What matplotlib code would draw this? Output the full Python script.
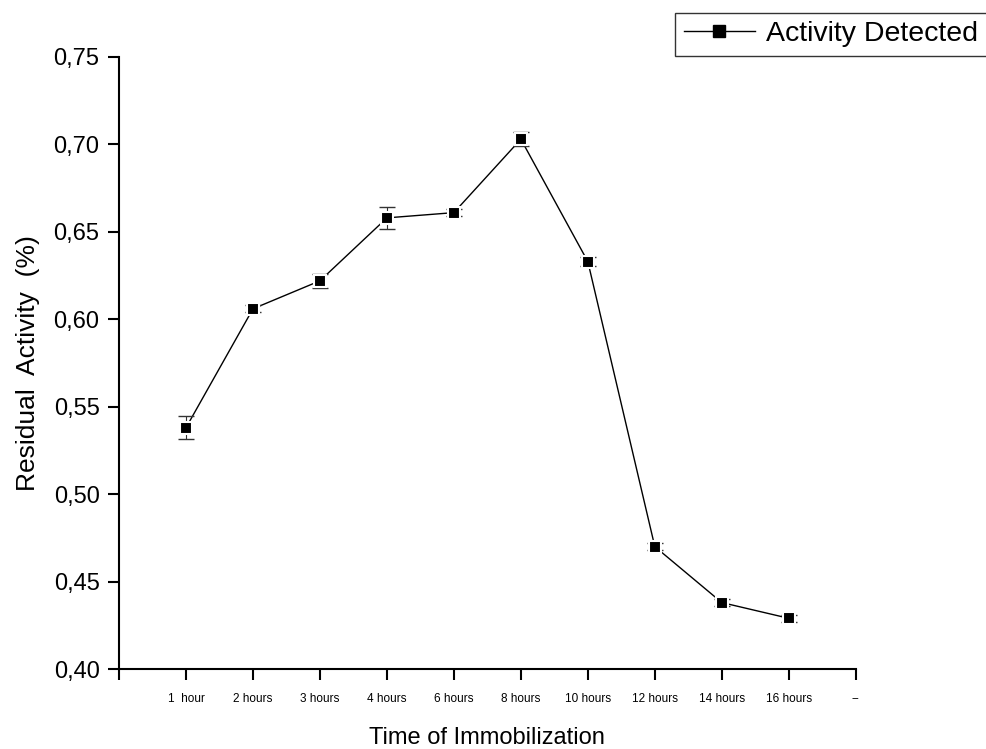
import matplotlib.pyplot as plt
from matplotlib.ticker import FuncFormatter

plt.rcParams['font.family'] = ['Liberation Sans', 'DejaVu Sans']

time_labels = ['1  hour', '2 hours', '3 hours', '4 hours', '6 hours', '8 hours',
               '10 hours', '12 hours', '14 hours', '16 hours']
activity = [0.538, 0.606, 0.622, 0.658, 0.661, 0.703, 0.633, 0.470, 0.438, 0.429]
activity_err = [0.0065, 0.002, 0.004, 0.0065, 0.002, 0.004, 0.0025, 0.002, 0.002, 0.002]


def main():
    fig = plt.figure(figsize=(9.87, 7.49), dpi=100)
    ax = fig.add_axes([0.1206, 0.1068, 0.7464, 0.8171])

    x = list(range(1, len(activity) + 1))
    ax.plot(x, activity, color='black', lw=1, zorder=2)
    ax.errorbar(x, activity, yerr=activity_err, fmt='none', ecolor='#333333',
                elinewidth=0.8, capsize=6, capthick=1, zorder=3)
    ax.plot(x, activity, ls='none', marker='s', ms=8.5, mfc='black', mec='white',
            mew=1.5, zorder=4)

    # legend proxy
    ax.plot([], [], color='black', lw=1, marker='s', ms=8, label='Activity Detected')
    leg = ax.legend(loc='upper right', bbox_to_anchor=(1.0, 0.983),
                    bbox_transform=fig.transFigure, fontsize=20.5, frameon=True,
                    fancybox=False, edgecolor='black', handlelength=2.5,
                    borderpad=0.3, handletextpad=0.4, borderaxespad=0)
    leg.get_frame().set_linewidth(1)

    ax.set_xlim(0, 11)
    ax.set_ylim(0.40, 0.75)
    ax.set_xticks(range(0, 12))
    ax.set_xticklabels([''] + time_labels + ['--'], fontsize=8.5)
    ax.set_yticks([0.40, 0.45, 0.50, 0.55, 0.60, 0.65, 0.70, 0.75])
    ax.yaxis.set_major_formatter(FuncFormatter(lambda v, p: f'{v:.2f}'.replace('.', ',')))
    ax.tick_params(axis='y', labelsize=17, length=8, width=1.5, direction='out', pad=6)
    ax.tick_params(axis='x', length=8, width=1.5, direction='out', pad=9)

    for side in ('top', 'right'):
        ax.spines[side].set_visible(False)
    for side in ('left', 'bottom'):
        ax.spines[side].set_linewidth(1.5)

    ax.set_ylabel('Residual  Activity  (%)', fontsize=19, labelpad=10)
    ax.set_xlabel('Time of Immobilization', fontsize=17, labelpad=16)

    fig.savefig('out.png', dpi=100)


if __name__ == '__main__':
    main()
